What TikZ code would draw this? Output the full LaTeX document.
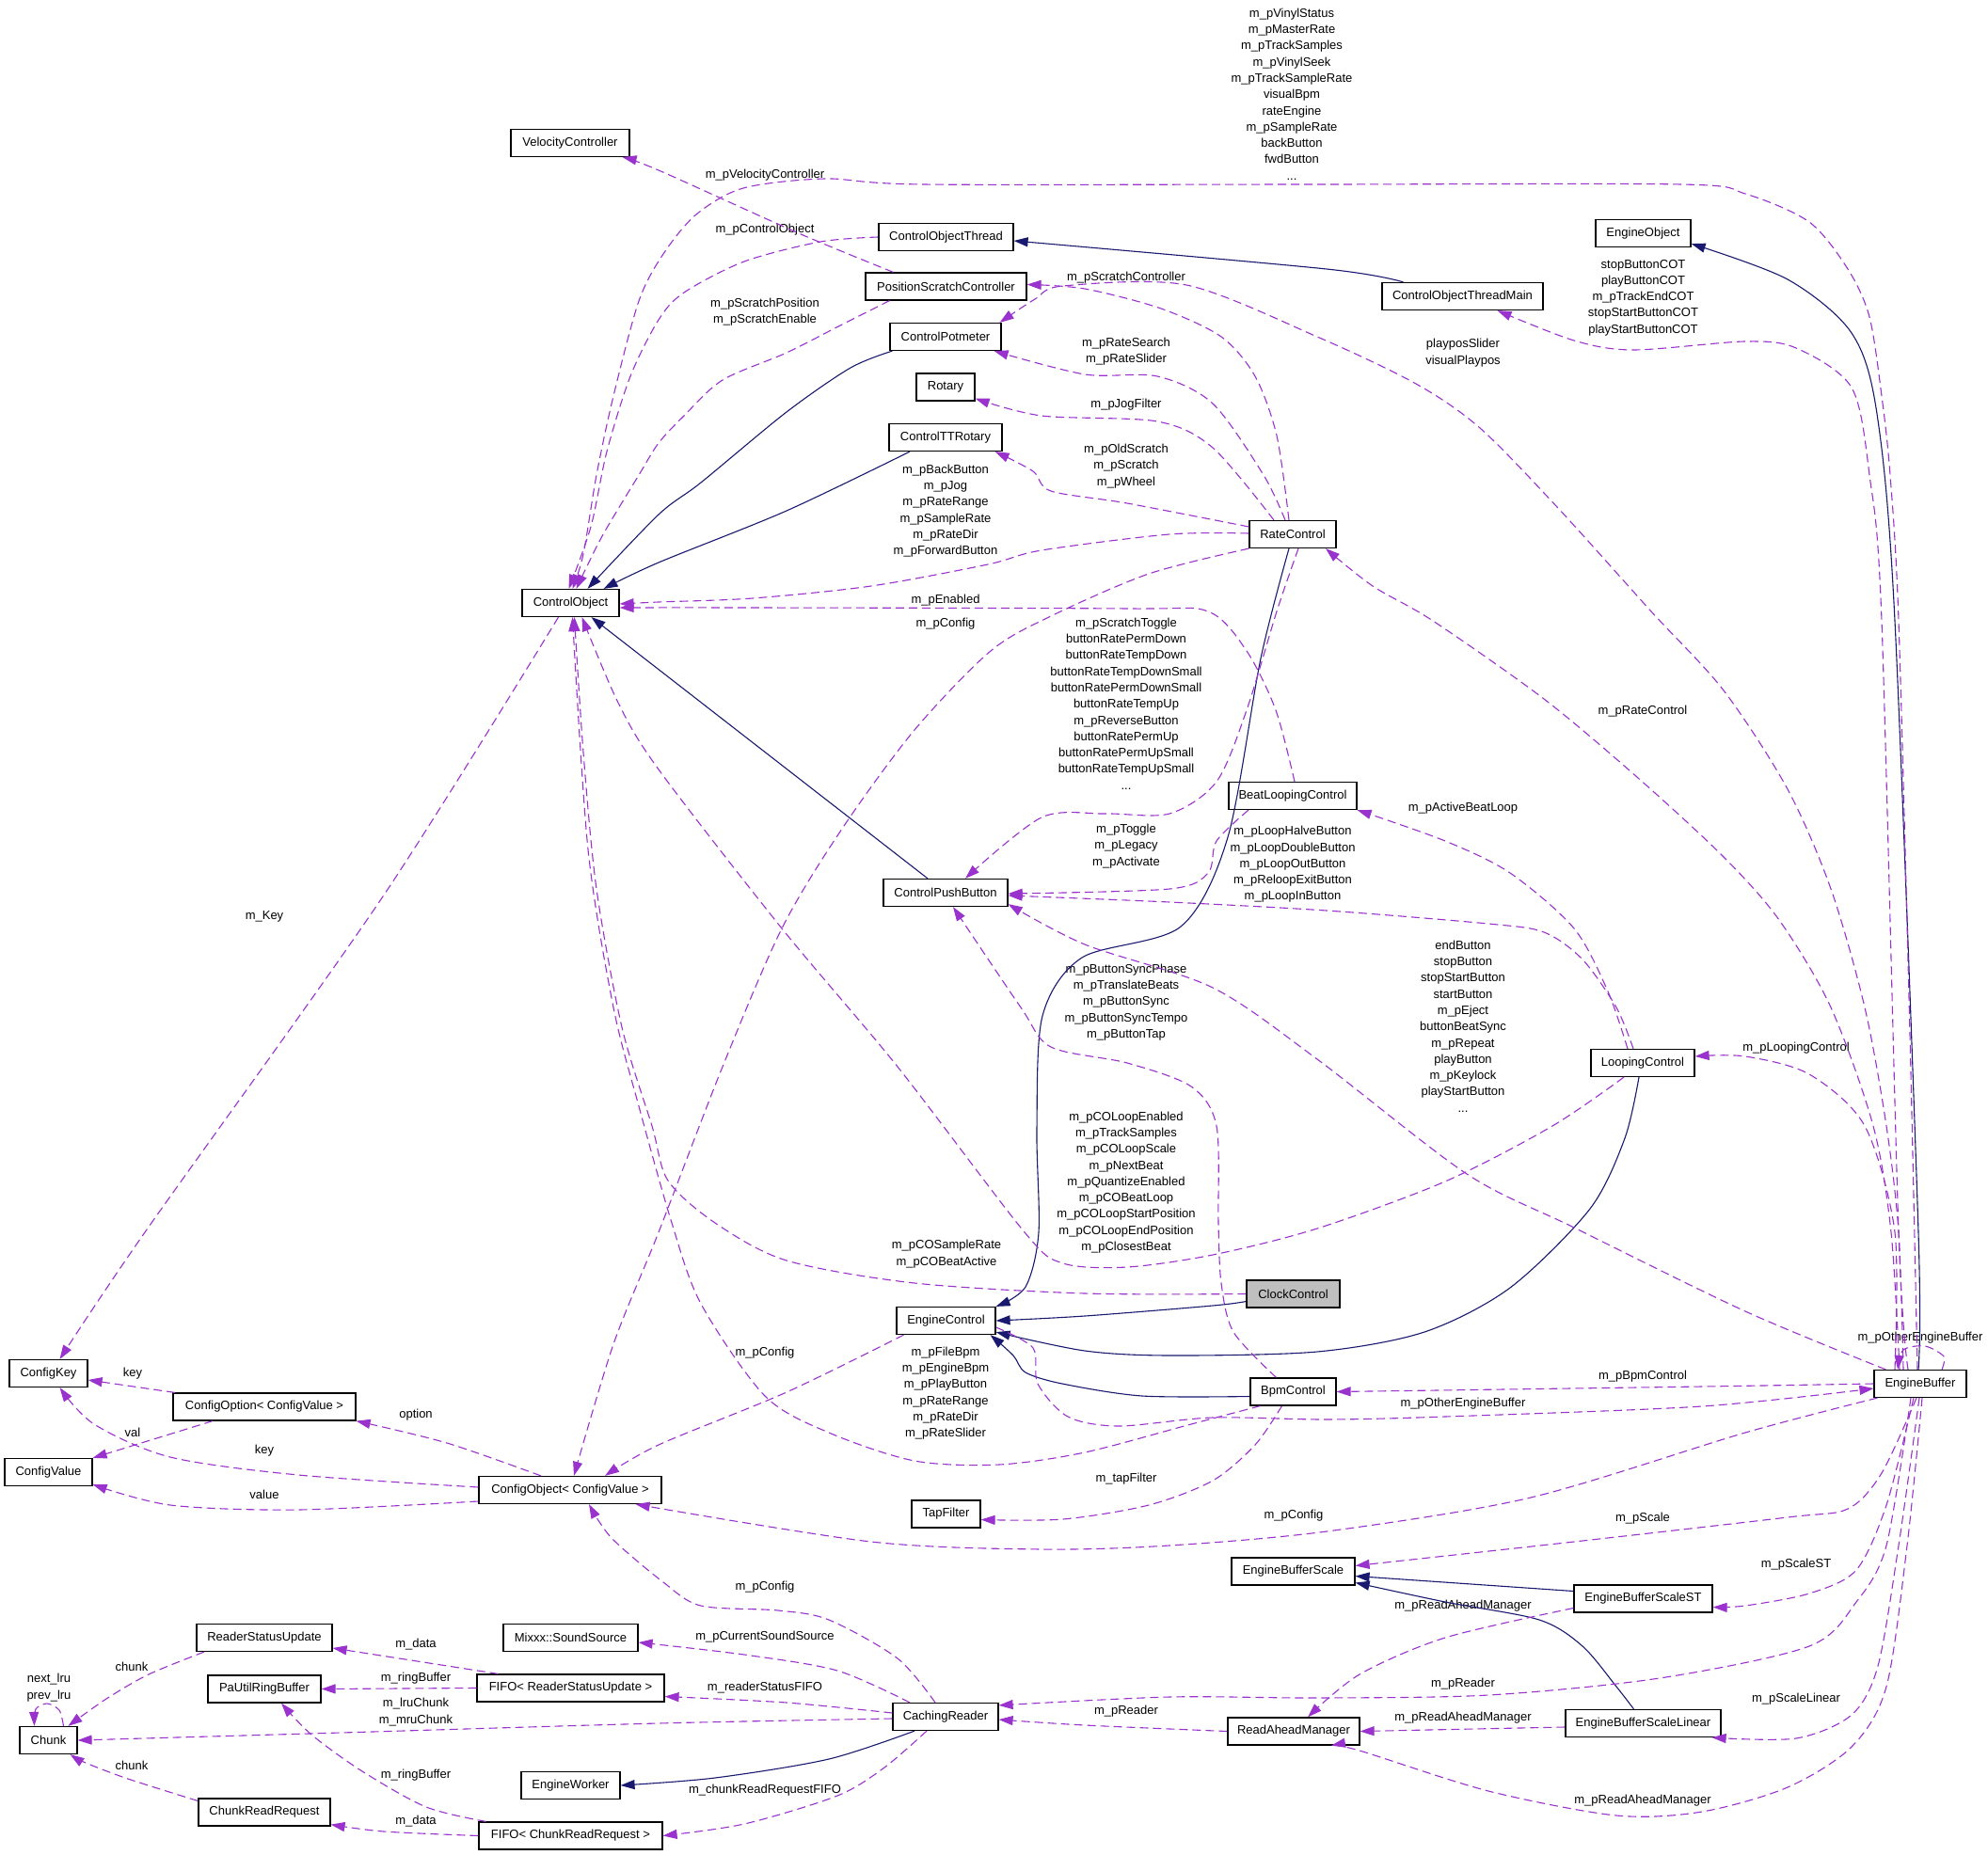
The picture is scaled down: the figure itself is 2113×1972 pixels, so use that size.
\documentclass[tikz,border=0pt]{standalone}
\usepackage{fontspec}
\setmainfont{Liberation Sans}
\usetikzlibrary{arrows.meta}
\definecolor{dxMember}{HTML}{9A32CD}
\definecolor{dxBase}{HTML}{191970}
\definecolor{dxFocus}{HTML}{BFBFBF}
\tikzset{
  classbox/.style={draw=black, line width=1.2pt, fill=white, minimum height=29, inner sep=0pt},
  edgelabel/.style={align=center, inner sep=0pt},
  baseedge/.style={dxBase, line width=1.1pt, -{Triangle[length=15pt,width=10pt]}},
  memberedge/.style={dxMember, line width=1.1pt, dash pattern=on 9pt off 5pt, -{Triangle[length=15pt,width=10pt]}},
}
\begin{document}
\begin{tikzpicture}[x=1pt, y=-1pt, font=\fontsize{13}{17.3}\selectfont]
  \useasboundingbox[fill=white] (0,0) rectangle (2113,1972);
  % classes
  \foreach \id/\x/\y/\w/\name in {
    vel/606/152/126/VelocityController,
    co/606.5/641/103/ControlObject,
    cot/1005.5/252/143/ControlObjectThread,
    psc/1005.5/304.5/171/PositionScratchController,
    cpm/1005/358/118/ControlPotmeter,
    rot/1005/411.5/62/Rotary,
    ctt/1005/465/120/ControlTTRotary,
    rc/1374/568/92/RateControl,
    eo/1746.5/248/101/EngineObject,
    cotm/1554.5/315/171/ControlObjectThreadMain,
    blc/1374/846/136/BeatLoopingControl,
    cpb/1005/949/132/ControlPushButton,
    lc/1746/1130/110/LoopingControl,
    ec/1005.5/1404/105/EngineControl,
    bpm/1374.5/1479.5/91/BpmControl,
    tap/1005.5/1609.5/73/TapFilter,
    ebs/1374.5/1670.5/131/EngineBufferScale,
    cr/1005/1825/112/CachingReader,
    ram/1375/1840.5/140/ReadAheadManager,
    eb/2041/1471/98/EngineBuffer,
    ebst/1746.5/1699.5/147/EngineBufferScaleST,
    ebsl/1746.5/1832/165/EngineBufferScaleLinear,
    ckey/51.5/1460/83/ConfigKey,
    copt/281/1495.5/194/{ConfigOption< ConfigValue >},
    cval/51.5/1565/93/ConfigValue,
    cobj/606/1584/194/{ConfigObject< ConfigValue >},
    rsu/281/1741/144/ReaderStatusUpdate,
    snd/606.5/1741/143/Mixxx::SoundSource,
    pa/281/1795.5/120/PaUtilRingBuffer,
    fifo1/606.5/1794.5/199/{FIFO< ReaderStatusUpdate >},
    chunk/51.5/1850/61/Chunk,
    ew/606.5/1898/105/EngineWorker,
    crr/281/1926.5/140/ChunkReadRequest,
    fifo2/606.5/1951.5/195/{FIFO< ChunkReadRequest >}}{
    \node[classbox, minimum width=\w] (\id) at (\x,\y) {\name};
  }
  \node[classbox, minimum width=99, fill=dxFocus] (cc) at (1374.5,1375.5) {ClockControl};

  % member labels
  \node[edgelabel] (lVinyl) at (1373,100) {m\_pVinylStatus\\m\_pMasterRate\\m\_pTrackSamples\\m\_pVinylSeek\\m\_pTrackSampleRate\\visualBpm\\rateEngine\\m\_pSampleRate\\backButton\\fwdButton\\...};
  \node[edgelabel] (lVelo) at (813,186) {m\_pVelocityController};
  \node[edgelabel] (lCtrlObj) at (813,244) {m\_pControlObject};
  \node[edgelabel] (lScrPos) at (813,331.5) {m\_pScratchPosition\\m\_pScratchEnable};
  \node[edgelabel] (lScrCtl) at (1197,295) {m\_pScratchController};
  \node[edgelabel] (lRateSearch) at (1197,373.5) {m\_pRateSearch\\m\_pRateSlider};
  \node[edgelabel] (lJog) at (1197,430) {m\_pJogFilter};
  \node[edgelabel] (lScratch) at (1197,495.5) {m\_pOldScratch\\m\_pScratch\\m\_pWheel};
  \node[edgelabel] (lRateCO) at (1005,543) {m\_pBackButton\\m\_pJog\\m\_pRateRange\\m\_pSampleRate\\m\_pRateDir\\m\_pForwardButton};
  \node[edgelabel] (lEnabled) at (1005,638.5) {m\_pEnabled};
  \node[edgelabel] (lRateCfg) at (1005,663.5) {m\_pConfig};
  \node[edgelabel] (lRateBtn) at (1197,748) {m\_pScratchToggle\\buttonRatePermDown\\buttonRateTempDown\\buttonRateTempDownSmall\\buttonRatePermDownSmall\\buttonRateTempUp\\m\_pReverseButton\\buttonRatePermUp\\buttonRatePermUpSmall\\buttonRateTempUpSmall\\...};
  \node[edgelabel] (lToggle) at (1197,899.5) {m\_pToggle\\m\_pLegacy\\m\_pActivate};
  \node[edgelabel] (lLoopBtn) at (1374,919) {m\_pLoopHalveButton\\m\_pLoopDoubleButton\\m\_pLoopOutButton\\m\_pReloopExitButton\\m\_pLoopInButton};
  \node[edgelabel] (lBeatLoop) at (1555,859) {m\_pActiveBeatLoop};
  \node[edgelabel] (lRateCtl) at (1746,756) {m\_pRateControl};
  \node[edgelabel] (lCOT) at (1746.5,316.5) {stopButtonCOT\\playButtonCOT\\m\_pTrackEndCOT\\stopStartButtonCOT\\playStartButtonCOT};
  \node[edgelabel] (lPlaypos) at (1555,375) {playposSlider\\visualPlaypos};
  \node[edgelabel] (lEBBtn) at (1555,1091) {endButton\\stopButton\\stopStartButton\\startButton\\m\_pEject\\buttonBeatSync\\m\_pRepeat\\playButton\\m\_pKeylock\\playStartButton\\...};
  \node[edgelabel] (lLoopCtl) at (1909,1114) {m\_pLoopingControl};
  \node[edgelabel] (lSync) at (1197,1065.5) {m\_pButtonSyncPhase\\m\_pTranslateBeats\\m\_pButtonSync\\m\_pButtonSyncTempo\\m\_pButtonTap};
  \node[edgelabel] (lLoopCO) at (1197,1257) {m\_pCOLoopEnabled\\m\_pTrackSamples\\m\_pCOLoopScale\\m\_pNextBeat\\m\_pQuantizeEnabled\\m\_pCOBeatLoop\\m\_pCOLoopStartPosition\\m\_pCOLoopEndPosition\\m\_pClosestBeat};
  \node[edgelabel] (lClockCO) at (1006,1333) {m\_pCOSampleRate\\m\_pCOBeatActive};
  \node[edgelabel] (lBpmCO) at (1005,1481) {m\_pFileBpm\\m\_pEngineBpm\\m\_pPlayButton\\m\_pRateRange\\m\_pRateDir\\m\_pRateSlider};
  \node[edgelabel] (lCtlCfg) at (813,1438.5) {m\_pConfig};
  \node[edgelabel] (lOtherSelf) at (2041,1422) {m\_pOtherEngineBuffer};
  \node[edgelabel] (lBpmCtl) at (1746,1463) {m\_pBpmControl};
  \node[edgelabel] (lOther) at (1555,1492.5) {m\_pOtherEngineBuffer};
  \node[edgelabel] (lTap) at (1197,1572.5) {m\_tapFilter};
  \node[edgelabel] (lBufCfg) at (1375,1611.5) {m\_pConfig};
  \node[edgelabel] (lScale) at (1746,1614) {m\_pScale};
  \node[edgelabel] (lScaleST) at (1909,1663.5) {m\_pScaleST};
  \node[edgelabel] (lRamST) at (1555,1707) {m\_pReadAheadManager};
  \node[edgelabel] (lBufReader) at (1555,1790) {m\_pReader};
  \node[edgelabel] (lScaleLin) at (1909,1806) {m\_pScaleLinear};
  \node[edgelabel] (lRamLin) at (1555,1826.5) {m\_pReadAheadManager};
  \node[edgelabel] (lRamBuf) at (1746,1914) {m\_pReadAheadManager};
  \node[edgelabel] (lRamReader) at (1197,1819.5) {m\_pReader};
  \node[edgelabel] (lCacheCfg) at (813,1687.5) {m\_pConfig};
  \node[edgelabel] (lSource) at (813,1740) {m\_pCurrentSoundSource};
  \node[edgelabel] (lStatusFifo) at (813,1794) {m\_readerStatusFIFO};
  \node[edgelabel] (lChunkFifo) at (813,1903.5) {m\_chunkReadRequestFIFO};
  \node[edgelabel] (lStatusData) at (442,1748.5) {m\_data};
  \node[edgelabel] (lRing1) at (442,1784.5) {m\_ringBuffer};
  \node[edgelabel] (lLru) at (442,1820) {m\_lruChunk\\m\_mruChunk};
  \node[edgelabel] (lRing2) at (442,1887) {m\_ringBuffer};
  \node[edgelabel] (lReqData) at (442,1936.5) {m\_data};
  \node[edgelabel] (lChunk1) at (140,1771.5) {chunk};
  \node[edgelabel] (lChunk2) at (140,1876.5) {chunk};
  \node[edgelabel] (lLruSelf) at (52,1794) {next\_lru\\prev\_lru};
  \node[edgelabel] (lOptKey) at (141,1460.5) {key};
  \node[edgelabel] (lOptVal) at (141,1522.5) {val};
  \node[edgelabel] (lOption) at (442,1504.5) {option};
  \node[edgelabel] (lObjKey) at (281,1542) {key};
  \node[edgelabel] (lObjVal) at (281,1588.5) {value};
  \node[edgelabel] (lKey) at (281,974.5) {m\_Key};

  % inheritance
  \draw[baseedge] plot[smooth] coordinates {([xshift=-63pt]cotm.north) (1410,286) ([yshift=-4pt]cot.east)};
  \draw[baseedge] plot[smooth] coordinates {([xshift=-2pt]eb.north) (2039,1310) (2014,660) (1995,440) (1968,354) (1900,297) ([yshift=4pt]eo.south east)};
  \draw[baseedge] plot[smooth] coordinates {([xshift=3pt]cpm.south west) (904,391) (836,438) (745,513) (700,547) ([xshift=18pt]co.north)};
  \draw[baseedge] plot[smooth] coordinates {([xshift=-38pt]ctt.south) (836,543) (700,598) ([xshift=35pt]co.north)};
  \draw[baseedge] ([xshift=-19pt]cpb.north) -- ([xshift=22pt]co.south);
  \draw[baseedge] plot[smooth] coordinates {([xshift=-4pt]rc.south) (1340,700) (1305,890) (1255,985) (1150,1018) (1108,1080) (1102,1200) (1104,1310) (1090,1368) (ec.north east)};
  \draw[baseedge] plot[smooth] coordinates {([yshift=-8pt]cc.west) (1289,1388) (1153,1399) (ec.east)};
  \draw[baseedge] plot[smooth] coordinates {([xshift=-4pt]lc.south) (1727,1210) (1690,1285) (1605,1369) (1514,1416) (1400,1437) (1243,1441) (1153,1436) ([yshift=3pt]ec.south east)};
  \draw[baseedge] plot[smooth] coordinates {([yshift=-5pt]bpm.west) (1214,1484) (1129,1471) (1090,1459) (1077,1441) ([xshift=-6pt]ec.south east)};
  \draw[baseedge] ([yshift=8pt]ebst.west) -- ([yshift=-5pt]ebs.east);
  \draw[baseedge] plot[smooth] coordinates {([xshift=-10pt]ebsl.north) (1718,1793) (1682,1750) (1636,1722) (1536,1703) ([yshift=-12pt]ebs.east)};
  \draw[baseedge] plot[smooth] coordinates {([xshift=-33pt]cr.south) (881,1870) (760,1890) (ew.east)};

  % members
  \draw[memberedge] plot[smooth] coordinates {([xshift=-3pt]eb.north) (2030,1100) (2018,660) (2009,505) (2000,421) (1987,337) (1964,286) (1923,236) (1855,206) (1787,196) (1400,196) (981,196) (877,190) (790,200) (740,228) (705,270) (679,320) (652,421) (634,505) (620,589) ([xshift=2pt]co.north)};
  \draw[memberedge] plot[smooth] coordinates {(cot.west) (872,257) (791,278) (727,311) (700,340) (670,400) (645,480) (628,560) ([xshift=-2pt]co.north)};
  \draw[memberedge] plot[smooth] coordinates {([xshift=-60pt]psc.south) (895,345) (836,375) (768,404) (727,442) (700,471) (679,505) (640,570) ([xshift=6pt]co.north)};
  \draw[memberedge] plot[smooth] coordinates {([xshift=-56pt]psc.north) (849,248) (700,181) ([xshift=-8pt]vel.south east)};
  \draw[memberedge] plot[smooth] coordinates {([xshift=-13pt]eb.north) (2018,1310) (2000,660) (1987,505) (1968,412) (1909,370) (1855,363) (1736,372) (1673,362) ([xshift=37pt]cotm.south)};
  \draw[memberedge] plot[smooth] coordinates {([xshift=-18pt]eb.north) (2018,1310) (2005,1197) (1982,1071) (1946,945) (1900,839) (1832,734) (1755,650) (1655,539) (1573,455) (1505,408) (1400,358) (1261,303) (1130,304) (1100,318) ([xshift=-2pt]cpm.north east)};
  \draw[memberedge] plot[smooth] coordinates {([xshift=-22pt]eb.north) (2010,1310) (1991,1197) (1946,1071) (1891,978) (1832,911) (1741,827) (1641,743) (1523,660) (1459,623) ([xshift=35pt]rc.south)};
  \draw[memberedge] plot[smooth] coordinates {([xshift=-27pt]eb.north) (2014,1310) (1982,1197) (1923,1142) (1855,1123) ([yshift=7pt]lc.east)};
  \draw[memberedge] plot[smooth] coordinates {([xshift=23pt]eb.north) (2066,1442) (2046,1431) (2023,1435) ([xshift=-24pt]eb.north)};
  \draw[memberedge] plot[smooth] coordinates {(eb.west) (1809,1474) (bpm.east)};
  \draw[memberedge] plot[smooth] coordinates {([yshift=-7pt]ec.east) (1098,1433) (1103,1471) (1135,1506) (1189,1516) (1289,1507) (1410,1509) (1536,1506) (1809,1495) ([yshift=-5pt]eb.west)};
  \draw[memberedge] plot[smooth] coordinates {([xshift=4pt]eb.south west) (1855,1523) (1627,1592) (1410,1628) (1243,1643) (1107,1647) (926,1639) ([xshift=-28pt]cobj.south east)};
  \draw[memberedge] plot[smooth] coordinates {([xshift=-4pt]eb.south) (2000,1566) (1964,1604) (1900,1613) (1673,1639) ([yshift=6pt]ebs.east)};
  \draw[memberedge] plot[smooth] coordinates {([xshift=-7pt]eb.south) (2005,1600) (1973,1669) (1923,1694) (1855,1707) ([yshift=-9pt]ebst.east)};
  \draw[memberedge] plot[smooth] coordinates {([xshift=-1pt]eb.south) (2018,1643) (1996,1771) (1968,1823) (1909,1848) ([xshift=-10pt]ebsl.south east)};
  \draw[memberedge] plot[smooth] coordinates {([xshift=-10pt]eb.south) (2005,1643) (1973,1703) (1923,1750) (1764,1784) (1582,1802) (1400,1805) (1243,1804) ([yshift=-3pt]cr.north east)};
  \draw[memberedge] plot[smooth] coordinates {(ram.west) (1153,1834) ([yshift=-3pt]cr.east)};
  \draw[memberedge] plot[smooth] coordinates {([xshift=2pt]eb.south) (2027,1643) (2005,1793) (1968,1857) (1900,1900) (1809,1926) (1718,1930) (1582,1904) (1445,1861) ([xshift=40pt]ram.south)};
  \draw[memberedge] plot[smooth] coordinates {([yshift=-10pt]ebst.west) (1536,1741) (1445,1780) ([xshift=15pt]ram.north)};
  \draw[memberedge] ([yshift=-4pt]ebsl.west) -- (ram.east);
  \draw[memberedge] plot[smooth] coordinates {([xshift=-38pt]cr.north) (890,1776) (791,1759) ([yshift=-5pt]snd.east)};
  \draw[memberedge] plot[smooth] coordinates {([xshift=-11pt]cr.north) (954,1763) (881,1722) (827,1712) (745,1707) (705,1682) (650,1635) ([xshift=20pt]cobj.south)};
  \draw[memberedge] plot[smooth] coordinates {([yshift=4pt]cr.west) (836,1810) ([yshift=-9pt]fifo1.east)};
  \draw[memberedge] plot[smooth] coordinates {([yshift=-2pt]cr.west) (700,1832) (362,1842) (chunk.east)};
  \draw[memberedge] plot[smooth] coordinates {([xshift=-20pt]cr.south) (940,1879) (890,1909) (791,1939) (fifo2.east)};
  \draw[memberedge] ([xshift=-77pt]fifo1.north) -- ([yshift=-11pt]rsu.east);
  \draw[memberedge] (fifo1.west) -- (pa.east);
  \draw[memberedge] plot[smooth] coordinates {([xshift=-90pt]fifo2.north) (453,1921) (385,1883) (331,1844) ([xshift=18pt]pa.south)};
  \draw[memberedge] plot[smooth] coordinates {(fifo2.west) (408,1947) ([yshift=2pt]crr.south east)};
  \draw[memberedge] plot[smooth] coordinates {([xshift=-64pt]rsu.south) (158,1780) (113,1806) ([xshift=21pt]chunk.north)};
  \draw[memberedge] plot[smooth] coordinates {([yshift=12pt]crr.west) (136,1891) (91,1874) ([xshift=-8pt]chunk.south east)};
  \draw[memberedge] plot[smooth] coordinates {([xshift=16pt]chunk.north) (63,1818) (50,1811) (38,1817) ([xshift=-15pt]chunk.north)};
  \draw[memberedge] ([xshift=-95pt]copt.north) -- ([yshift=-7pt]ckey.east);
  \draw[memberedge] ([xshift=-55pt]copt.south) -- (cval.north east);
  \draw[memberedge] plot[smooth] coordinates {([xshift=-31pt]cobj.north) (475,1534) (copt.south east)};
  \draw[memberedge] plot[smooth] coordinates {([yshift=3pt]cobj.west) (317,1568) (181,1549) (100,1514) ([xshift=12pt]ckey.south)};
  \draw[memberedge] plot[smooth] coordinates {([yshift=-12pt]cobj.west) (317,1605) (181,1600) ([yshift=2pt]cval.south east)};
  \draw[memberedge] plot[smooth] coordinates {([xshift=-13pt]co.south) (407,953) (154,1310) ([xshift=12pt]ckey.north)};
  \draw[memberedge] plot[smooth] coordinates {([yshift=1pt]rc.west) (1243,568) (1107,585) (1050,600) (926,623) (800,636) (700,640) ([yshift=-1pt]co.east)};
  \draw[memberedge] plot[smooth] coordinates {([xshift=2pt]blc.north) (1356,755) (1325,692) (1284,650) (1200,647) (800,646) ([yshift=-5pt]co.east)};
  \draw[memberedge] plot[smooth] coordinates {(rc.south west) (1221,610) (1117,655) (1053,692) (972,776) (895,881) (831,987) (768,1134) (700,1310) (652,1429) ([xshift=4pt]cobj.north)};
  \draw[memberedge] plot[smooth] coordinates {([xshift=6pt]rc.south) (1357,650) (1325,755) (1293,831) (1243,865) (1175,865) (1107,869) ([xshift=21pt]cpb.north)};
  \draw[memberedge] plot[smooth] coordinates {([xshift=-4pt]rc.north) (1357,463) (1334,400) (1298,358) (1234,328) (1153,307) ([yshift=2pt]psc.east)};
  \draw[memberedge] plot[smooth] coordinates {([xshift=-8pt]rc.north) (1343,505) (1289,429) (1230,400) (1153,398) ([xshift=-8pt]cpm.south east)};
  \draw[memberedge] plot[smooth] coordinates {([xshift=-20pt]rc.north) (1289,476) (1230,448) (1107,442) ([yshift=3pt]rot.south east)};
  \draw[memberedge] plot[smooth] coordinates {([yshift=8pt]rc.west) (1198,535) (1117,522) (1098,501) ([xshift=-8pt]ctt.south east)};
  \draw[memberedge] plot[smooth] coordinates {([xshift=-47pt]blc.south) (1293,894) (1284,928) (1243,945) ([yshift=-1pt]cpb.east)};
  \draw[memberedge] plot[smooth] coordinates {([xshift=-10pt]lc.north) (1718,1071) (1682,1020) (1641,991) (1582,982) (1410,968) (1243,959) ([yshift=-3pt]cpb.east)};
  \draw[memberedge] plot[smooth] coordinates {([xshift=-16pt]lc.north) (1709,1054) (1673,987) (1605,928) (1536,894) (blc.south east)};
  \draw[memberedge] plot[smooth] coordinates {([xshift=13pt]eb.north west) (1855,1394) (1673,1305) (1559,1248) (1400,1126) (1289,1050) (1153,1004) ([yshift=3pt]cpb.south east)};
  \draw[memberedge] plot[smooth] coordinates {([xshift=-20pt]lc.south) (1650,1197) (1536,1256) (1400,1306) (1289,1334) (1198,1347) (1130,1343) (1089,1310) (954,1134) (831,987) (700,818) (657,747) ([xshift=12pt]co.south)};
  \draw[memberedge] plot[smooth] coordinates {(cc.west) (1153,1375) (972,1364) (836,1340) (760,1300) (710,1255) (693,1197) (661,1092) (634,945) (620,800) ([xshift=4pt]co.south)};
  \draw[memberedge] plot[smooth] coordinates {([xshift=-35pt]bpm.south) (1266,1514) (1153,1544) (1062,1557) (972,1553) (881,1523) (813,1484) (745,1386) (714,1300) (679,1176) (652,1071) (625,903) ([xshift=2pt]co.south)};
  \draw[memberedge] plot[smooth] coordinates {([xshift=-18pt]bpm.north) (1311,1416) (1298,1364) (1295,1300) (1293,1197) (1266,1155) (1198,1130) (1117,1113) (1085,1071) ([xshift=8pt]cpb.south)};
  \draw[memberedge] plot[smooth] coordinates {([xshift=-12pt]bpm.south) (1334,1536) (1289,1574) (1221,1600) (1130,1615) ([yshift=-6pt]tap.east)};
  \draw[memberedge] plot[smooth] coordinates {([xshift=-45pt]ec.south) (836,1480) (700,1536) ([xshift=37pt]cobj.north)};
\end{tikzpicture}
\end{document}
